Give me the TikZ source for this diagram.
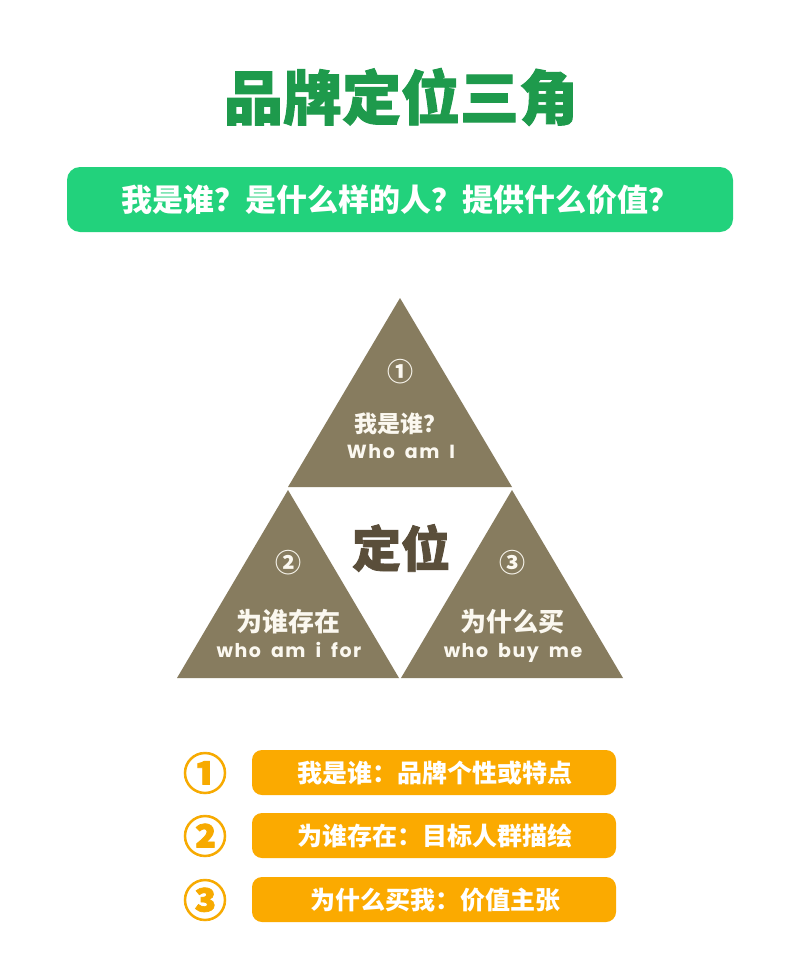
\documentclass[tikz,border=0pt]{standalone}
\usepackage{fontspec}
\newfontfamily\cjk{Noto Sans CJK SC}
\newfontfamily\cjkheavy[BoldFeatures={FakeBold=1.6}]{Noto Sans CJK SC}
\newfontfamily\latinw[LetterSpace=8]{Poppins}
\newcommand\wgap{\hspace{10pt}}
\definecolor{titlegreen}{HTML}{1E9A4C}
\definecolor{bargreen}{HTML}{22D27C}
\definecolor{khaki}{HTML}{877C5F}
\definecolor{darkbrown}{HTML}{5A4E3A}
\definecolor{orangebar}{HTML}{FBAA00}
\definecolor{orangenum}{HTML}{F7AA00}
\definecolor{offwhite}{HTML}{FBF8F0}
\tikzset{
  tri/.style={fill=khaki},
  cjktxt/.style={font=\cjk\bfseries\fontsize{#1}{#1}\selectfont, inner sep=0pt},
  heavytxt/.style={font=\cjkheavy\bfseries\fontsize{#1}{#1}\selectfont, inner sep=0pt},
  entxt/.style={font=\latinw\bfseries\fontsize{#1}{#1}\selectfont, inner sep=0pt, text=offwhite, anchor=base},
  bar/.style={fill=orangebar, rounded corners=10pt},
  numcirc/.style={font=\cjk\bfseries\fontsize{#1}{#1}\selectfont, inner sep=0pt}
}
\begin{document}
\begin{tikzpicture}[x=1pt,y=-1pt]
\useasboundingbox (0,0) rectangle (800,964);
\fill[white] (0,0) rectangle (800,964);
% title
\node[heavytxt=59, text=titlegreen] (title) at (401,97) {品牌定位三角};
% green bar
\fill[bargreen, rounded corners=13pt] (67,167) rectangle (733,232);
\node[cjktxt=31, text=white] (sub) at (400,200) {我是谁？是什么样的人？提供什么价值？};
% triangles
\coordinate (tA) at (400,298);
\coordinate (tB) at (288,487);
\coordinate (tC) at (512,487);
\fill[tri] (tA) -- (tB) -- (tC) -- cycle;
\coordinate (lA) at (288,490);
\coordinate (lB) at (177,678);
\coordinate (lC) at (399,678);
\fill[tri] (lA) -- (lB) -- (lC) -- cycle;
\coordinate (rA) at (512,490);
\coordinate (rB) at (401,678);
\coordinate (rC) at (623,678);
\fill[tri] (rA) -- (rB) -- (rC) -- cycle;
% triangle texts
\node[numcirc=26, text=offwhite] (n1) at (400,372) {①};
\node[cjktxt=23, text=offwhite] (q1) at (400,424) {我是谁？};
\node[entxt=19] (e1) at (401,458) {Who\wgap am\wgap I};
\node[heavytxt=49, text=darkbrown] (center) at (401,548) {定位};
\node[numcirc=26, text=offwhite] (n2) at (288,563) {②};
\node[cjktxt=26, text=offwhite] (q2) at (288,622) {为谁存在};
\node[entxt=19] (e2) at (289,657) {who\wgap am\wgap i\wgap for};
\node[numcirc=26, text=offwhite] (n3) at (512,563) {③};
\node[cjktxt=26, text=offwhite] (q3) at (512,622) {为什么买};
\node[entxt=19] (e3) at (513,657) {who\wgap buy\wgap me};
% bottom list
\node[heavytxt=44, text=orangenum] (b1) at (205,773) {①};
\node[heavytxt=44, text=orangenum] (b2) at (205,836) {②};
\node[heavytxt=44, text=orangenum] (b3) at (205,900) {③};
\fill[bar] (252,750) rectangle (616,795);
\fill[bar] (252,813) rectangle (616,858);
\fill[bar] (252,877) rectangle (616,922);
\node[cjktxt=25, text=white] (t1) at (435,773) {我是谁：品牌个性或特点};
\node[cjktxt=25, text=white] (t2) at (435,836) {为谁存在：目标人群描绘};
\node[cjktxt=25, text=white] (t3) at (435,900) {为什么买我：价值主张};
\end{tikzpicture}
\end{document}
